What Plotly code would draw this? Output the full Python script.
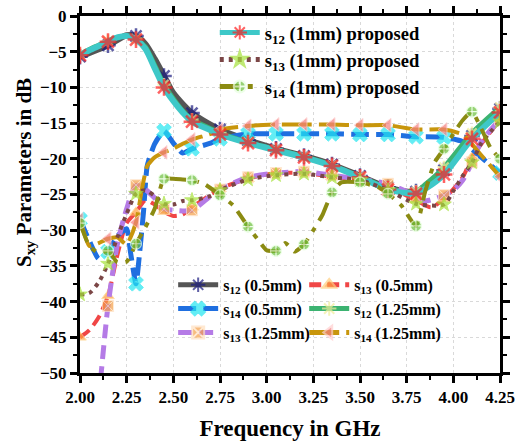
import plotly.graph_objects as go

# ---- S-parameter sweeps (frequency in GHz, magnitude in dB) ----
# proposed 1 mm design
f_s12_1 = [2.00, 2.05, 2.10, 2.15, 2.20, 2.25, 2.30, 2.35, 2.40, 2.45, 2.50, 2.55, 2.60, 2.70,
           2.75, 2.90, 3.05, 3.20, 3.35, 3.50, 3.65, 3.75, 3.80, 3.85, 3.95, 4.10, 4.25]
s12_1 = [-5.5, -4.8, -4.2, -3.6, -3.0, -2.8, -3.3, -4.6, -7.3, -10.0, -11.9, -13.5, -14.8, -16.0,
         -16.6, -17.8, -18.8, -19.8, -21.0, -22.6, -24.3, -24.8, -24.9, -24.2, -22.2, -17.2, -13.5]

f_s13_1 = [2.00, 2.05, 2.10, 2.15, 2.20, 2.25, 2.30, 2.35, 2.40, 2.45, 2.50, 2.55, 2.60, 2.70, 2.75,
           2.90, 3.05, 3.20, 3.35, 3.50, 3.65, 3.80, 3.95, 4.00, 4.05, 4.10, 4.15, 4.20, 4.25]
s13_1 = [-39.0, -38.8, -37.3, -34.7, -31.0, -27.7, -24.9, -24.4, -25.2, -26.3, -26.4, -25.9, -25.8,
         -25.2, -24.4, -22.9, -22.3, -22.1, -22.6, -23.0, -24.4, -26.3, -26.4, -24.5, -22.4, -20.5,
         -17.8, -16.2, -14.8]

f_s14_1 = [2.00, 2.05, 2.10, 2.15, 2.20, 2.25, 2.30, 2.35, 2.40, 2.45, 2.50, 2.55, 2.60, 2.67,
           2.75, 2.82, 2.90, 2.95, 3.00, 3.05, 3.10, 3.15, 3.20, 3.25, 3.30, 3.35, 3.40, 3.50,
           3.60, 3.65, 3.72, 3.80, 3.85, 3.90, 3.95, 4.00, 4.05, 4.10, 4.15, 4.20, 4.25]
s14_1 = [-29.0, -32.2, -33.2, -32.9, -34.5, -34.4, -31.9, -29.6, -27.0, -22.8, -22.8, -22.9, -23.0,
         -23.6, -25.1, -26.5, -29.5, -31.2, -32.8, -32.9, -31.8, -33.0, -32.0, -30.0, -27.8, -24.7,
         -23.3, -23.3, -24.0, -24.9, -26.5, -29.4, -24.5, -20.5, -18.6, -16.5, -14.6, -13.4, -15.8,
         -18.5, -20.0]

# 0.5 mm variant
f_s12_05 = [2.00, 2.15, 2.25, 2.30, 2.35, 2.40, 2.45, 2.50, 2.60, 2.75,
            2.90, 3.05, 3.20, 3.35, 3.50, 3.65, 3.80, 3.95, 4.10, 4.25]
s12_05 = [-5.7, -4.1, -2.7, -2.8, -3.9, -6.0, -8.4, -10.8, -13.6, -15.9,
          -17.4, -18.6, -19.6, -20.8, -22.4, -24.0, -24.6, -21.6, -16.8, -13.0]

f_s13_05 = [2.00, 2.05, 2.10, 2.15, 2.20, 2.25, 2.30, 2.35, 2.40, 2.45, 2.50, 2.55, 2.60,
            2.75, 2.90, 3.05, 3.20, 3.35, 3.50, 3.65, 3.80, 3.88, 3.95, 4.05, 4.10, 4.25]
s13_05 = [-45.0, -44.0, -42.2, -39.2, -33.5, -29.0, -27.5, -25.8, -26.4, -27.4, -28.0, -27.8, -26.8,
          -24.2, -22.8, -22.0, -22.0, -22.5, -23.0, -24.0, -25.8, -26.8, -25.6, -22.6, -19.8, -14.5]

f_s14_05 = [2.00, 2.05, 2.10, 2.15, 2.20, 2.25, 2.27, 2.30, 2.32, 2.34, 2.36, 2.40, 2.45, 2.50, 2.55,
            2.60, 2.70, 2.75, 2.90, 3.05, 3.20, 3.35, 3.50, 3.65, 3.80, 3.95, 4.05, 4.15, 4.25]
s14_05 = [-28.5, -31.5, -34.0, -33.0, -30.8, -29.8, -33.0, -37.5, -33.0, -27.5, -21.0, -17.9, -16.1,
          -17.8, -19.2, -18.6, -17.8, -17.2, -16.5, -16.5, -16.5, -16.5, -16.6, -16.6, -16.9, -17.0,
          -17.6, -19.8, -22.0]

# 1.25 mm variant
f_s12_125 = f_s12_1
s12_125 = [-5.4, -4.7, -4.1, -3.5, -3.0, -2.8, -3.2, -4.3, -6.9, -9.6, -11.6, -13.3, -14.5, -15.8,
           -16.4, -17.7, -18.7, -19.7, -20.9, -22.5, -24.1, -24.6, -24.6, -23.6, -21.2, -16.4, -12.8]

f_s13_125 = [2.11, 2.15, 2.20, 2.25, 2.30, 2.35, 2.40, 2.45, 2.50, 2.55, 2.60, 2.70, 2.75, 2.90,
             3.05, 3.20, 3.35, 3.50, 3.65, 3.75, 3.80, 3.85, 3.95, 4.00, 4.05, 4.10, 4.15, 4.25]
s13_125 = [-51.0, -40.6, -32.0, -27.0, -23.7, -24.3, -25.5, -27.0, -27.2, -27.3, -27.2, -25.2, -24.3,
           -22.6, -22.0, -21.8, -22.3, -22.9, -23.5, -24.6, -25.3, -25.9, -25.1, -24.4, -23.0, -20.5,
           -17.6, -14.5]

f_s14_125 = [2.00, 2.05, 2.10, 2.15, 2.20, 2.25, 2.30, 2.33, 2.36, 2.40, 2.45, 2.50, 2.55, 2.60,
             2.70, 2.75, 2.90, 3.05, 3.20, 3.35, 3.50, 3.65, 3.80, 3.95, 4.05, 4.15, 4.25]
s14_125 = [-28.5, -32.2, -31.8, -31.2, -31.0, -32.0, -28.9, -24.5, -21.0, -19.8, -19.1, -18.6, -17.9,
           -17.3, -16.5, -15.9, -15.4, -15.2, -15.2, -15.2, -15.3, -15.3, -15.9, -15.9, -16.6, -19.5,
           -22.5]

x_ticks = [2.00, 2.25, 2.50, 2.75, 3.00, 3.25, 3.50, 3.75, 4.00, 4.25]
y_ticks = [0, -5, -10, -15, -20, -25, -30, -35, -40, -45, -50]

SERIF = "Liberation Serif"
MARKER_STEP = 0.15  # symbols are placed every 0.15 GHz starting at 2.00 GHz


def marker_sizes(freqs, size):
    out = []
    for f in freqs:
        k = (f - 2.0) / MARKER_STEP
        out.append(size if abs(k - round(k)) < 1e-6 else 0)
    return out


def series(freqs, vals, name, color, width, dash, symbol, msize, mcolor, mline_color, mline_w,
           legend, smoothing=0.7):
    return go.Scatter(
        x=freqs, y=vals, name=name, legend=legend,
        mode="lines+markers",
        line=dict(color=color, width=width, dash=dash, shape="spline", smoothing=smoothing),
        marker=dict(symbol=symbol, size=marker_sizes(freqs, msize), color=mcolor,
                    line=dict(color=mline_color, width=mline_w)),
    )


fig = go.Figure()

# comparison designs: left column (legend2) and right column (legend3)
fig.add_trace(series(f_s12_05, s12_05, "s<sub>12</sub> (0.5mm)", "#555555", 6, "solid",
                     "asterisk", 13, "#1c1c80", "#1c1c80", 2.5, "legend2"))
fig.add_trace(series(f_s13_05, s13_05, "s<sub>13</sub> (0.5mm)", "#f04646", 4, "12px,6px",
                     "triangle-up", 11, "#ffa040", "#ffd080", 1, "legend3"))
fig.add_trace(series(f_s14_05, s14_05, "s<sub>14</sub> (0.5mm)", "#1f6fe0", 5, "18px,7px",
                     "x", 13, "#22e6f0", "#22e6f0", 1, "legend2", smoothing=0.5))
fig.add_trace(series(f_s12_125, s12_125, "s<sub>12</sub> (1.25mm)", "#3cb371", 5, "solid",
                     "asterisk", 11, "#f2ee9a", "#f2ee9a", 2.5, "legend3"))
fig.add_trace(series(f_s13_125, s13_125, "s<sub>13</sub> (1.25mm)", "#b57be6", 5, "14px,7px",
                     "square-x", 11, "#f5a04a", "#ffe0c0", 1, "legend2"))
fig.add_trace(series(f_s14_125, s14_125, "s<sub>14</sub> (1.25mm)", "#c8960c", 4, "30px,7px",
                     "triangle-left", 12, "#f48080", "#ffd0d0", 1, "legend3", smoothing=0.5))

# proposed 1 mm design (top legend)
fig.add_trace(series(f_s12_1, s12_1, "s<sub>12</sub> (1mm) proposed", "#3ec8c8", 6, "solid",
                     "asterisk", 14, "#ff2020", "#ff2020", 2.5, "legend"))
fig.add_trace(series(f_s13_1, s13_1, "s<sub>13</sub> (1mm) proposed", "#7b4646", 4, "4px,5px",
                     "star", 11, "#a6e23a", "#a6e23a", 1, "legend"))
fig.add_trace(series(f_s14_1, s14_1, "s<sub>14</sub> (1mm) proposed", "#8b8b12", 4,
                     "20px,8px,5px,8px", "circle-cross", 11, "#6cbf3c", "#e8ffe0", 1.2, "legend",
                     smoothing=0.5))

axis_font = dict(family=SERIF, size=17, color="black", weight="bold")


def legend_box(x, y, size):
    return dict(
        xref="container", yref="container", x=x, y=y, xanchor="left", yanchor="top",
        orientation="v", bgcolor="rgba(0,0,0,0)", itemwidth=40, itemsizing="constant",
        font=dict(family=SERIF, size=size, color="black", weight="bold"),
    )


frame = dict(tickcolor="black", showline=True, linewidth=3, linecolor="black", zeroline=False,
             mirror="ticks", showgrid=True, gridcolor="#d9d9d9", griddash="dot", gridwidth=1,
             ticks="outside", ticklen=7, tickwidth=3)

fig.update_layout(
    width=520, height=448,
    # fixed frame: the legends sit on top of the plot and must not push the margins
    margin=dict(l=80, r=20, t=16, b=75, autoexpand=False),
    paper_bgcolor="white", plot_bgcolor="white",
    font=dict(family=SERIF, color="black"),
    legend=legend_box(0.413, 0.969, 18.5),
    legend2=legend_box(0.333, 0.402, 16),
    legend3=legend_box(0.585, 0.402, 16),
    xaxis=dict(
        range=[2.0, 4.25], tickvals=x_ticks, ticktext=[f"{v:.2f}" for v in x_ticks],
        tickfont=axis_font,
        minor=dict(ticks="outside", ticklen=4, tickwidth=2, tickcolor="black", dtick=0.125,
                   tick0=2.0, showgrid=False),
        title=dict(text="Frequency in GHz", standoff=14,
                   font=dict(family=SERIF, size=23, color="black", weight="bold")),
        **frame,
    ),
    yaxis=dict(
        range=[-50, 0], tickvals=y_ticks,
        tickfont=axis_font,
        minor=dict(ticks="outside", ticklen=4, tickwidth=2, tickcolor="black", dtick=2.5,
                   tick0=0, showgrid=False),
        **frame,
    ),
    annotations=[dict(
        text="S<sub>xy</sub> Parameters in dB", textangle=-90,
        xref="paper", yref="paper", x=-0.131, y=0.563, xanchor="center", yanchor="middle",
        showarrow=False, font=dict(family=SERIF, size=21, color="black", weight="bold"),
    )],
)

fig.write_html("out.html")
